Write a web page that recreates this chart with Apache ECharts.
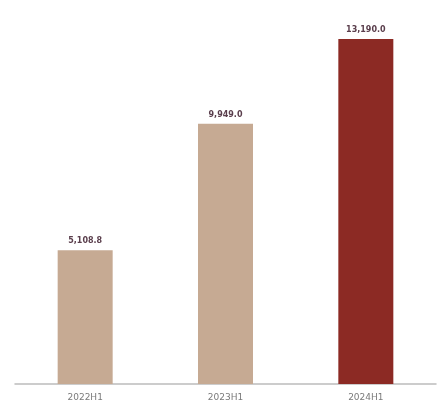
<!DOCTYPE html>
<html><head><meta charset="utf-8">
<script src="https://cdn.jsdelivr.net/npm/echarts@6/dist/echarts.min.js"></script>
<style>html,body{margin:0;padding:0;background:#fff}#c{width:447px;height:409px}</style>
</head><body><div id="c"></div>
<script>
const categories = ['2022H1', '2023H1', '2024H1'];
const values = [5108.8, 9949.0, 13190.0];
const barColors = ['#c6aa93', '#c6aa93', '#8c2a24'];

const chart = echarts.init(document.getElementById('c'));
chart.setOption({
  backgroundColor: '#ffffff',
  animation: false,
  grid: { left: 15, right: 11, top: 39, bottom: 25 },
  xAxis: {
    type: 'category',
    data: categories,
    axisLine: { lineStyle: { color: '#bcbcbc', width: 1.5 } },
    axisTick: { show: false },
    axisLabel: { color: '#7a7a7a', fontSize: 9, margin: 9, fontFamily: 'DejaVu Sans' }
  },
  yAxis: {
    type: 'value', min: 0, max: 13190,
    show: false, splitLine: { show: false }
  },
  series: [{
    type: 'bar',
    barWidth: 55,
    data: values.map((v, i) => ({ value: v, itemStyle: { color: barColors[i] } })),
    label: {
      show: true, position: 'top', distance: 5,
      color: '#5a3e4c', fontSize: 8, fontWeight: 'bold', fontFamily: 'DejaVu Sans',
      formatter: p => p.value.toLocaleString('en-US', { minimumFractionDigits: 1, maximumFractionDigits: 1 })
    }
  }]
});
</script></body></html>
